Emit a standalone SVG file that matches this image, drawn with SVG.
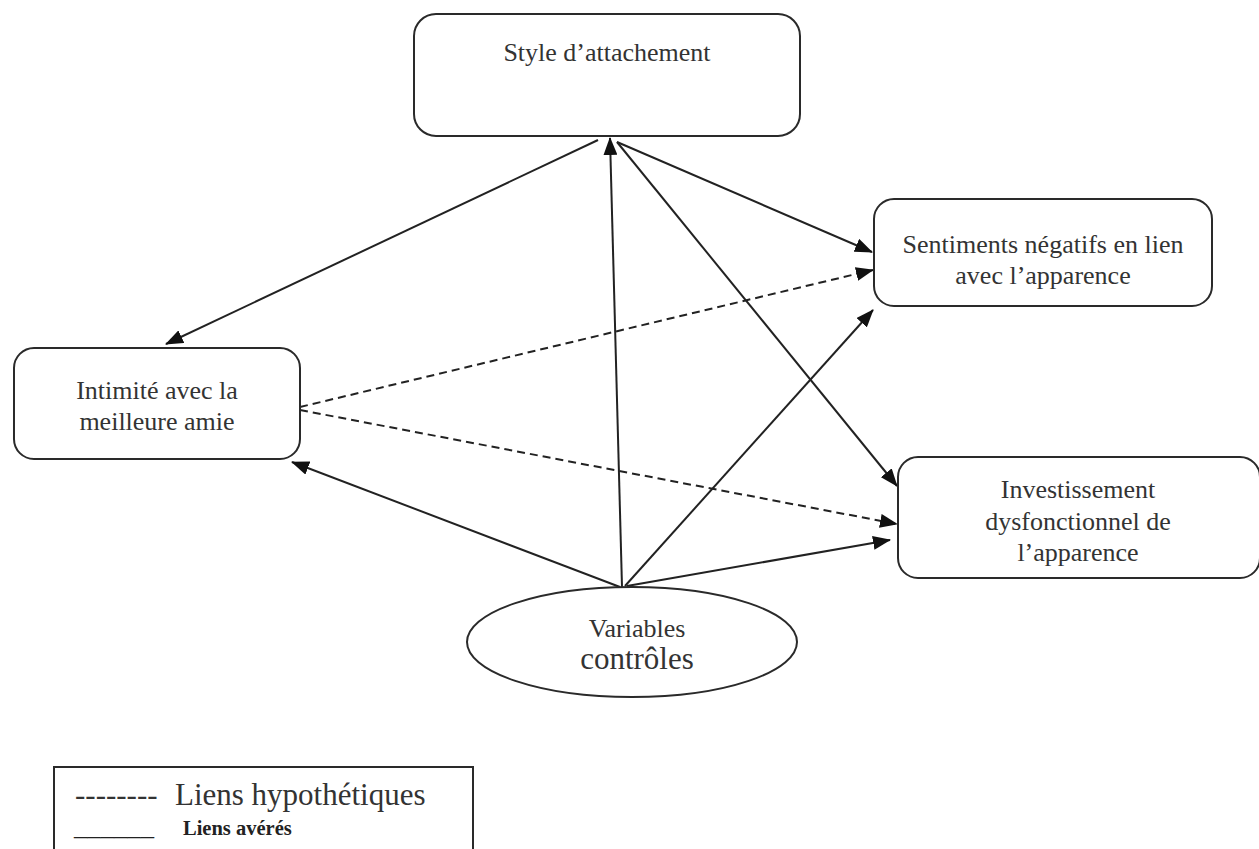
<svg xmlns="http://www.w3.org/2000/svg" width="1259" height="849" viewBox="0 0 1259 849">
<style>
.box{fill:#fff;stroke:#2a2a2a;stroke-width:2}
.t{font-family:"Liberation Serif","Times New Roman",serif;font-size:26px;fill:#333;text-anchor:middle}
.ln{stroke:#222;stroke-width:2;fill:none;marker-end:url(#ah)}
.dash{stroke-dasharray:8,5}
.lg{font-family:"Liberation Serif","Times New Roman",serif;fill:#333}
</style>
<defs>
<marker id="ah" markerUnits="userSpaceOnUse" markerWidth="18" markerHeight="14" refX="17" refY="7" orient="auto">
<path d="M0,0 L18,7 L0,14 z" fill="#111"/>
</marker>
</defs>
<rect width="1259" height="849" fill="#fff"/>
<g id="connectors">
<line class="ln" x1="598" y1="140" x2="166" y2="344"/>
<line class="ln" x1="622" y1="587" x2="610" y2="138"/>
<line class="ln" x1="617" y1="142" x2="872" y2="252"/>
<line class="ln" x1="617" y1="142" x2="897" y2="486"/>
<line class="ln dash" x1="300" y1="407" x2="873" y2="270"/>
<line class="ln dash" x1="300" y1="410" x2="897" y2="524"/>
<line class="ln" x1="620" y1="587" x2="292" y2="462"/>
<line class="ln" x1="625" y1="586" x2="873" y2="310"/>
<line class="ln" x1="627" y1="586" x2="890" y2="540"/>
</g>
<g id="style">
<rect class="box" x="414" y="14" width="386" height="122" rx="22"/>
<text class="t" x="607" y="61">Style d’attachement</text>
</g>
<g id="sentiments">
<rect class="box" x="874" y="199" width="338" height="107" rx="20"/>
<text class="t" x="1043" y="253">Sentiments négatifs en lien</text>
<text class="t" x="1043" y="284">avec l’apparence</text>
</g>
<g id="intimite">
<rect class="box" x="14" y="348" width="286" height="111" rx="20"/>
<text class="t" x="157" y="399">Intimité avec la</text>
<text class="t" x="157" y="430">meilleure amie</text>
</g>
<g id="investissement">
<rect class="box" x="898" y="457" width="362" height="121" rx="20"/>
<text class="t" x="1078" y="498">Investissement</text>
<text class="t" x="1078" y="530">dysfonctionnel de</text>
<text class="t" x="1078" y="561">l’apparence</text>
</g>
<g id="variables">
<ellipse class="box" cx="632" cy="642" rx="165" ry="55"/>
<text class="t" x="637" y="637">Variables</text>
<text class="t" x="637" y="669" style="font-size:31px">contrôles</text>
</g>
<g id="legend">
<rect class="box" x="54" y="767" width="419" height="100"/>
<text class="lg" x="75" y="805" style="font-size:31px">--------<tspan x="175">Liens hypothétiques</tspan></text>
<text class="lg" x="74" y="835" style="font-size:20.5px;fill:#222" textLength="80" lengthAdjust="spacingAndGlyphs">______</text>
<text class="lg" x="183" y="835" style="font-size:20.5px;font-weight:bold;fill:#222">Liens avérés</text>
</g>
</svg>
